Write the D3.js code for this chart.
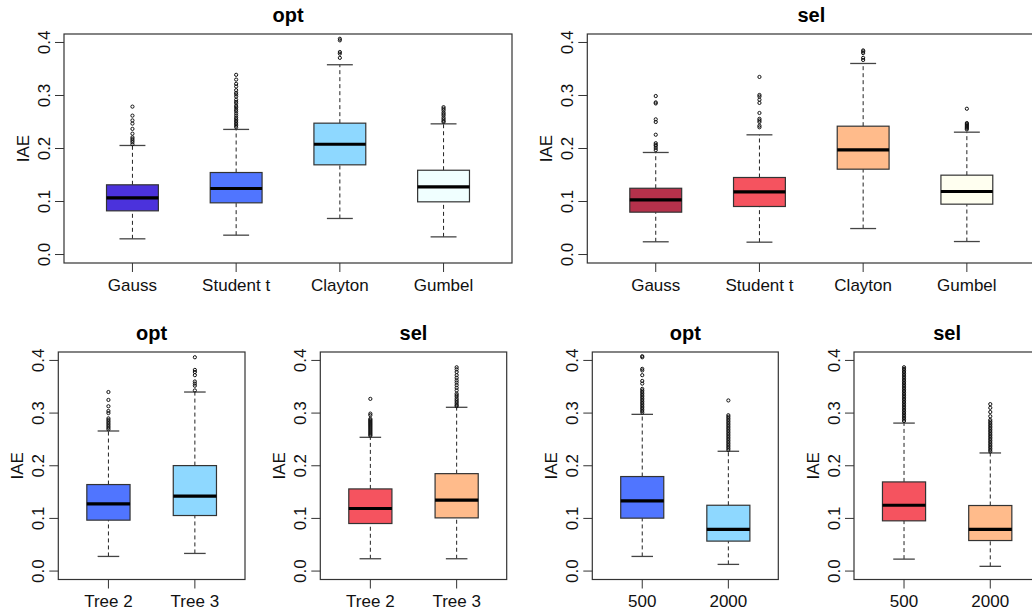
<!DOCTYPE html>
<html>
<head>
<meta charset="utf-8">
<script src="https://cdn.jsdelivr.net/npm/d3@7"></script>
<style>
  body { margin: 0; background: #fff; }
  svg { font-family: "Liberation Sans", Arial, Helvetica, sans-serif; }
  .tickText { font-size: 17px; fill: #111; }
  .axisTitle { font-size: 17px; fill: #111; }
  .panelTitle { font-size: 20px; font-weight: bold; fill: #000; }
</style>
</head>
<body>
<div id="chart"></div>
<script>
// categories
var copulaNames = ["Gauss", "Student t", "Clayton", "Gumbel"];
var treeNames = ["Tree 2", "Tree 3"];
var sizeNames = ["500", "2000"];
var yTicks = [0.0, 0.1, 0.2, 0.3, 0.4];

// box stats: [lower whisker, q1, median, q3, upper whisker]
var copulaOptStats = [
  [0.0296, 0.0824, 0.107, 0.1315, 0.2057],
  [0.0365, 0.0975, 0.1245, 0.1547, 0.236],
  [0.068, 0.1692, 0.208, 0.2478, 0.358],
  [0.0333, 0.0994, 0.1277, 0.159, 0.2465]
];
var copulaSelStats = [
  [0.024, 0.0799, 0.103, 0.125, 0.1925],
  [0.0233, 0.0906, 0.1183, 0.1453, 0.2258],
  [0.049, 0.161, 0.1975, 0.2421, 0.3604],
  [0.0245, 0.095, 0.1189, 0.1497, 0.2308]
];
var treeOptStats = [
  [0.0278, 0.0967, 0.1276, 0.1643, 0.266],
  [0.0335, 0.1055, 0.1422, 0.2003, 0.34]
];
var treeSelStats = [
  [0.0234, 0.0903, 0.1188, 0.156, 0.254],
  [0.0234, 0.101, 0.1346, 0.185, 0.311]
];
var sizeOptStats = [
  [0.0278, 0.1005, 0.1333, 0.1795, 0.2976],
  [0.0127, 0.0569, 0.079, 0.125, 0.2275]
];
var sizeSelStats = [
  [0.0227, 0.0954, 0.125, 0.1693, 0.281],
  [0.009, 0.058, 0.079, 0.1245, 0.2243]
];

// outliers
var copulaOptOut = [
  [0.279, 0.262, 0.253, 0.247, 0.237, 0.228, 0.221, 0.218, 0.215, 0.212, 0.208],
  [0.339, 0.33, 0.322, 0.317, 0.31, 0.305, 0.302, 0.298, 0.292, 0.288, 0.285, 0.28, 0.277, 0.273, 0.27, 0.266, 0.262, 0.258, 0.255, 0.252, 0.249, 0.246, 0.243, 0.24],
  [0.407, 0.404, 0.382, 0.379, 0.371],
  [0.278, 0.275, 0.272, 0.268, 0.265, 0.262, 0.258, 0.255, 0.252, 0.25]
];
var copulaSelOut = [
  [0.299, 0.287, 0.285, 0.255, 0.25, 0.226, 0.21, 0.207, 0.205, 0.201, 0.197],
  [0.335, 0.301, 0.298, 0.292, 0.286, 0.267, 0.256, 0.253, 0.25, 0.243, 0.24],
  [0.385, 0.383, 0.38, 0.371, 0.367],
  [0.275, 0.248, 0.246, 0.244, 0.242, 0.24, 0.238, 0.236]
];
var treeOptOut = [
  [0.34, 0.325, 0.313, 0.304, 0.3, 0.29, 0.287, 0.284, 0.281, 0.278, 0.275, 0.272, 0.269],
  [0.406, 0.382, 0.378, 0.372, 0.36, 0.356, 0.352, 0.343]
];
var treeSelOut = [
  [0.327, 0.299, 0.296, 0.289, 0.287, 0.285, 0.283, 0.281, 0.279, 0.277, 0.275, 0.273, 0.271, 0.269, 0.267, 0.265, 0.263, 0.261, 0.259, 0.257],
  [0.387, 0.383, 0.378, 0.372, 0.367, 0.362, 0.358, 0.353, 0.348, 0.343, 0.337, 0.334, 0.331, 0.327, 0.324, 0.321, 0.318, 0.315, 0.313]
];
var sizeOptOut = [
  [0.408, 0.406, 0.384, 0.381, 0.372, 0.361, 0.356, 0.346, 0.343, 0.34, 0.337, 0.334, 0.331, 0.328, 0.325, 0.322, 0.319, 0.316, 0.313, 0.31, 0.307, 0.304, 0.301],
  [0.324, 0.296, 0.293, 0.29, 0.287, 0.284, 0.281, 0.278, 0.275, 0.272, 0.269, 0.266, 0.263, 0.26, 0.257, 0.254, 0.251, 0.248, 0.245, 0.242, 0.239, 0.236, 0.233, 0.23]
];
var sizeSelOut = [
  [0.387, 0.384, 0.381, 0.378, 0.375, 0.372, 0.369, 0.366, 0.363, 0.36, 0.357, 0.354, 0.351, 0.348, 0.345, 0.342, 0.339, 0.336, 0.333, 0.33, 0.327, 0.324, 0.321, 0.318, 0.315, 0.312, 0.309, 0.306, 0.303, 0.3, 0.297, 0.294, 0.291, 0.288, 0.285],
  [0.317, 0.31, 0.302, 0.294, 0.287, 0.284, 0.281, 0.278, 0.275, 0.272, 0.269, 0.266, 0.263, 0.26, 0.257, 0.254, 0.251, 0.248, 0.245, 0.242, 0.239, 0.236, 0.233, 0.23, 0.227]
];

var optFill = ["#4B32DC", "#5075FF", "#8ED8FF", "#F0FFFF"];
var selFill = ["#B5314B", "#F5535F", "#FFBB8B", "#FFFFF0"];

var svg = d3.select("#chart")
  .append("svg")
  .attr("width", 1032)
  .attr("height", 611);

svg.append("rect").attr("width", 1032).attr("height", 611).attr("fill", "#fff");

// panel frames (plot region in px)
var panels = [
  {title: "opt", names: copulaNames, stats: copulaOptStats, out: copulaOptOut, fill: optFill, x0: 64, x1: 512, y0: 34, y1: 263},
  {title: "sel", names: copulaNames, stats: copulaSelStats, out: copulaSelOut, fill: selFill, x0: 587.3, x1: 1035.3, y0: 34, y1: 263},
  {title: "opt", names: treeNames, stats: treeOptStats, out: treeOptOut, fill: optFill.slice(1, 3), x0: 58.3, x1: 245, y0: 352, y1: 579.5},
  {title: "sel", names: treeNames, stats: treeSelStats, out: treeSelOut, fill: selFill.slice(1, 3), x0: 320.3, x1: 506.7, y0: 352, y1: 579.5},
  {title: "opt", names: sizeNames, stats: sizeOptStats, out: sizeOptOut, fill: optFill.slice(1, 3), x0: 592.3, x1: 778.3, y0: 352, y1: 579.5},
  {title: "sel", names: sizeNames, stats: sizeSelStats, out: sizeSelOut, fill: selFill.slice(1, 3), x0: 854, x1: 1040.3, y0: 352, y1: 579.5}
];

panels.forEach(function(p) {
  var n = p.names.length;
  var pad = 0.04 * n;
  var x = d3.scaleLinear().domain([0.5 - pad, n + 0.5 + pad]).range([p.x0, p.x1]);
  var y = d3.scaleLinear().domain([-0.016, 0.416]).range([p.y1, p.y0]);
  var boxW = x(1.25) - x(1);
  var g = svg.append("g");

  var rows = p.names.map(function(name, i) {
    return {name: name, i: i + 1, s: p.stats[i], out: p.out[i], fill: p.fill[i]};
  });

  // whiskers
  var wh = g.selectAll(".whisk").data(rows).enter().append("g");
  wh.append("line")
    .attr("x1", d => x(d.i)).attr("x2", d => x(d.i))
    .attr("y1", d => y(d.s[0])).attr("y2", d => y(d.s[1]))
    .attr("stroke", "#222").attr("stroke-dasharray", "4,3");
  wh.append("line")
    .attr("x1", d => x(d.i)).attr("x2", d => x(d.i))
    .attr("y1", d => y(d.s[3])).attr("y2", d => y(d.s[4]))
    .attr("stroke", "#222").attr("stroke-dasharray", "4,3");
  [0, 4].forEach(function(k) {
    wh.append("line")
      .attr("x1", d => x(d.i) - boxW / 2).attr("x2", d => x(d.i) + boxW / 2)
      .attr("y1", d => y(d.s[k])).attr("y2", d => y(d.s[k]))
      .attr("stroke", "#444").attr("stroke-width", 1.3);
  });

  // boxes
  g.selectAll(".box").data(rows).enter().append("rect")
    .attr("x", d => x(d.i) - boxW)
    .attr("y", d => y(d.s[3]))
    .attr("width", boxW * 2)
    .attr("height", d => y(d.s[1]) - y(d.s[3]))
    .attr("fill", d => d.fill)
    .attr("stroke", "#333").attr("stroke-width", 1.2);

  g.selectAll(".med").data(rows).enter().append("line")
    .attr("x1", d => x(d.i) - boxW).attr("x2", d => x(d.i) + boxW)
    .attr("y1", d => y(d.s[2])).attr("y2", d => y(d.s[2]))
    .attr("stroke", "#000").attr("stroke-width", 3.2);

  // outliers
  rows.forEach(function(d) {
    g.selectAll(null).data(d.out).enter().append("circle")
      .attr("cx", x(d.i)).attr("cy", v => y(v))
      .attr("r", 1.6)
      .attr("fill", "none").attr("stroke", "#111").attr("stroke-width", 1);
  });

  // frame
  g.append("rect")
    .attr("x", p.x0).attr("y", p.y0)
    .attr("width", p.x1 - p.x0).attr("height", p.y1 - p.y0)
    .attr("fill", "none").attr("stroke", "#333").attr("stroke-width", 1.2);

  // y axis
  g.selectAll(".yt").data(yTicks).enter().append("line")
    .attr("x1", p.x0 - 9).attr("x2", p.x0)
    .attr("y1", d => y(d)).attr("y2", d => y(d))
    .attr("stroke", "#333");
  g.selectAll(".ytl").data(yTicks).enter().append("text")
    .attr("class", "tickText")
    .attr("transform", d => "translate(" + (p.x0 - 14) + "," + y(d) + ") rotate(-90)")
    .attr("text-anchor", "middle")
    .text(d => d.toFixed(1));

  // x axis
  g.selectAll(".xt").data(rows).enter().append("line")
    .attr("x1", d => x(d.i)).attr("x2", d => x(d.i))
    .attr("y1", p.y1).attr("y2", p.y1 + 9)
    .attr("stroke", "#333");
  g.selectAll(".xtl").data(rows).enter().append("text")
    .attr("class", "tickText")
    .attr("x", d => x(d.i)).attr("y", p.y1 + 27.5)
    .attr("text-anchor", "middle")
    .text(d => d.name);

  g.append("text")
    .attr("class", "axisTitle")
    .attr("transform", "translate(" + (p.x0 - 35) + "," + ((p.y0 + p.y1) / 2) + ") rotate(-90)")
    .attr("text-anchor", "middle")
    .text("IAE");

  g.append("text")
    .attr("class", "panelTitle")
    .attr("x", (p.x0 + p.x1) / 2).attr("y", p.y0 - 12)
    .attr("text-anchor", "middle")
    .text(p.title);
});
</script>
</body>
</html>
